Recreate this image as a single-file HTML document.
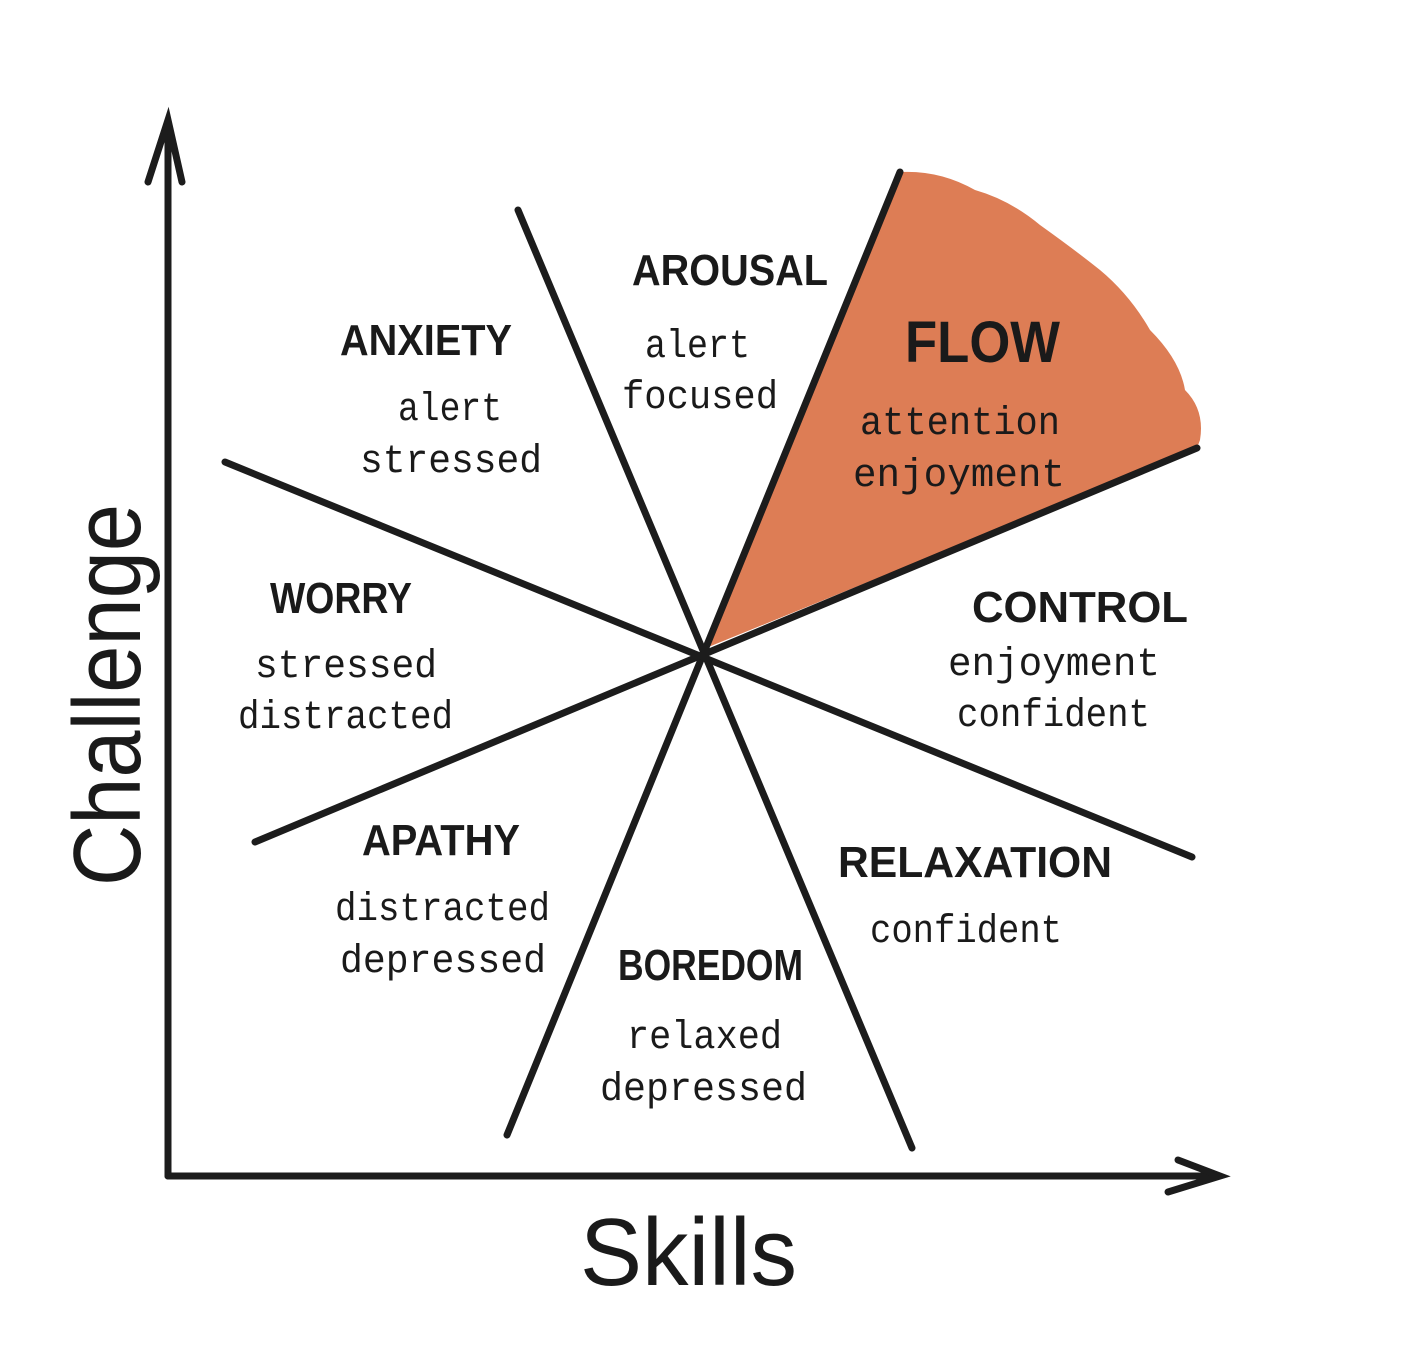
<!DOCTYPE html>
<html><head><meta charset="utf-8"><style>
html,body{margin:0;padding:0;background:#fff;}
svg{display:block}
.h{font-family:"Liberation Sans",sans-serif;font-weight:bold;font-size:44px;fill:#1a1a1a}
.t{font-family:"Liberation Mono",monospace;font-size:40px;fill:#1a1a1a}
</style></head><body>
<svg width="1413" height="1357" viewBox="0 0 1413 1357" xmlns="http://www.w3.org/2000/svg">
<rect width="1413" height="1357" fill="#fff"/>
<path d="M706,648 L900,172 Q940,170 975,190 Q1010,200 1040,225 Q1075,250 1100,270 Q1130,295 1150,330 Q1180,360 1185,390 Q1205,410 1200,440 L1197,448 Z" fill="#dd7d55"/>
<g stroke="#1c1c1c" stroke-width="7" stroke-linecap="round" fill="none">
<line x1="518" y1="210" x2="912" y2="1148"/>
<line x1="900" y1="172" x2="507" y2="1135"/>
<line x1="225" y1="462" x2="1192" y2="857"/>
<line x1="1197" y1="448" x2="255" y2="842"/>
<line x1="168" y1="122" x2="168" y2="1176"/>
<line x1="168" y1="1176" x2="1218" y2="1176"/>
<polyline points="148,182 168,120 182,182"/>
<polyline points="1178,1160 1220,1176 1168,1192"/>
</g>
<g lengthAdjust="spacingAndGlyphs">
<text class="h" x="632" y="285" textLength="196" lengthAdjust="spacingAndGlyphs">AROUSAL</text>
<text class="t" x="645" y="357" textLength="105" lengthAdjust="spacingAndGlyphs">alert</text>
<text class="t" x="622" y="408" textLength="156" lengthAdjust="spacingAndGlyphs">focused</text>
<text class="h" x="340" y="355" textLength="172" lengthAdjust="spacingAndGlyphs">ANXIETY</text>
<text class="t" x="398" y="420" textLength="104" lengthAdjust="spacingAndGlyphs">alert</text>
<text class="t" x="360" y="472" textLength="182" lengthAdjust="spacingAndGlyphs">stressed</text>
<text class="h" x="905" y="362" style="font-size:58px" textLength="155" lengthAdjust="spacingAndGlyphs">FLOW</text>
<text class="t" x="860" y="434" textLength="200" lengthAdjust="spacingAndGlyphs">attention</text>
<text class="t" x="853" y="486" textLength="212" lengthAdjust="spacingAndGlyphs">enjoyment</text>
<text class="h" x="270" y="613" textLength="142" lengthAdjust="spacingAndGlyphs">WORRY</text>
<text class="t" x="255" y="677" textLength="182" lengthAdjust="spacingAndGlyphs">stressed</text>
<text class="t" x="238" y="728" textLength="215" lengthAdjust="spacingAndGlyphs">distracted</text>
<text class="h" x="972" y="622" textLength="216" lengthAdjust="spacingAndGlyphs">CONTROL</text>
<text class="t" x="948" y="675" textLength="212" lengthAdjust="spacingAndGlyphs">enjoyment</text>
<text class="t" x="957" y="726" textLength="193" lengthAdjust="spacingAndGlyphs">confident</text>
<text class="h" x="362" y="855" textLength="158" lengthAdjust="spacingAndGlyphs">APATHY</text>
<text class="t" x="335" y="920" textLength="215" lengthAdjust="spacingAndGlyphs">distracted</text>
<text class="t" x="340" y="972" textLength="206" lengthAdjust="spacingAndGlyphs">depressed</text>
<text class="h" x="838" y="877" textLength="274" lengthAdjust="spacingAndGlyphs">RELAXATION</text>
<text class="t" x="870" y="942" textLength="192" lengthAdjust="spacingAndGlyphs">confident</text>
<text class="h" x="618" y="980" textLength="185" lengthAdjust="spacingAndGlyphs">BOREDOM</text>
<text class="t" x="627" y="1048" textLength="155" lengthAdjust="spacingAndGlyphs">relaxed</text>
<text class="t" x="600" y="1100" textLength="207" lengthAdjust="spacingAndGlyphs">depressed</text>
</g>
<text x="580" y="1285" textLength="217" lengthAdjust="spacingAndGlyphs" style="font-family:'Liberation Sans',sans-serif;font-size:96px;fill:#1a1a1a">Skills</text>
<text transform="translate(140,886) rotate(-90)" textLength="382" lengthAdjust="spacingAndGlyphs" style="font-family:'Liberation Sans',sans-serif;font-size:96px;fill:#1a1a1a">Challenge</text>
</svg>
</body></html>
